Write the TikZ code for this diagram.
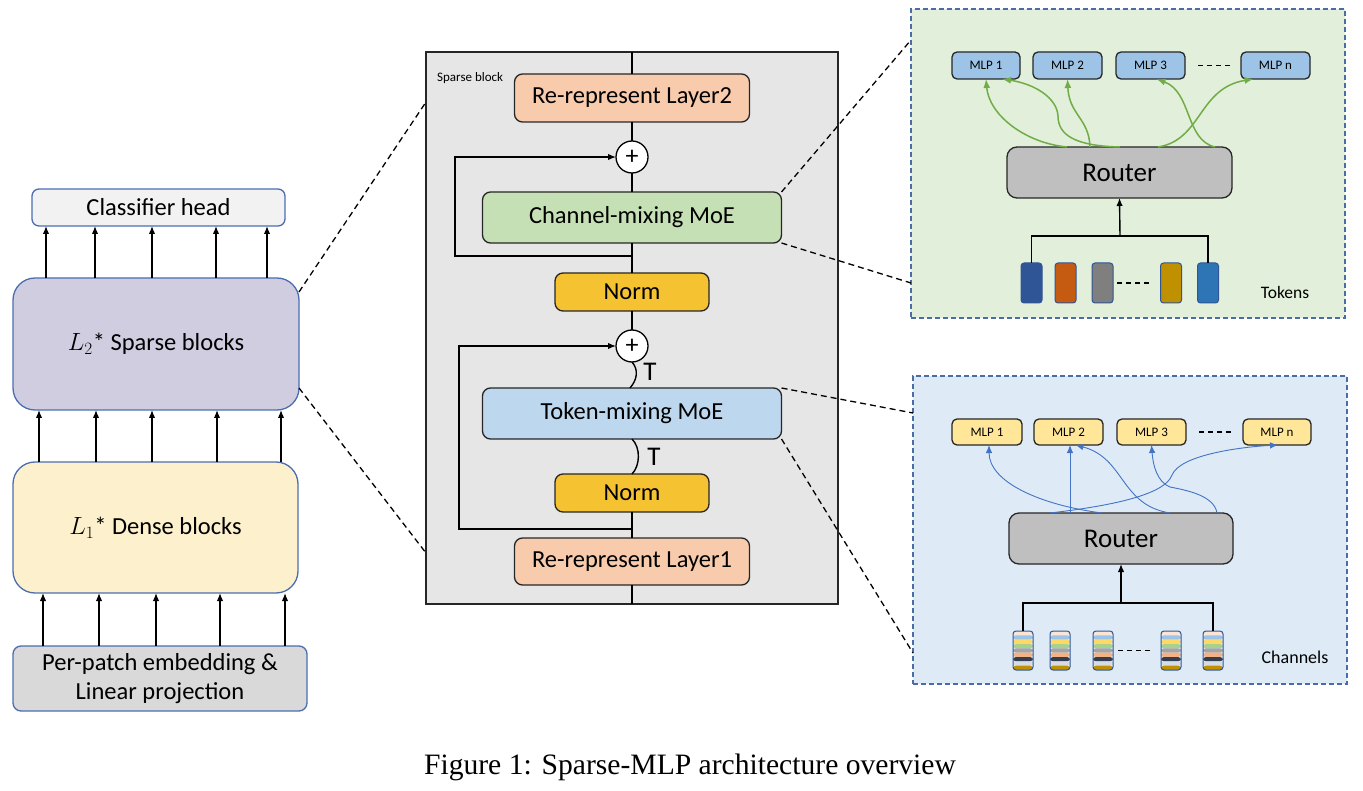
\documentclass[tikz,border=0pt]{standalone}
\usepackage{fontspec}
\setmainfont{Carlito}
\newfontfamily\capfont{Liberation Serif}
\usetikzlibrary{arrows.meta,calc}
\definecolor{lblue}{HTML}{4B6EAF}
\definecolor{clsfill}{HTML}{F2F2F2}
\definecolor{sparsefill}{HTML}{D0CDE1}
\definecolor{densefill}{HTML}{FCF0CD}
\definecolor{patchfill}{HTML}{D9D9D9}
\definecolor{sgray}{HTML}{E7E6E6}
\definecolor{rrfill}{HTML}{F8CBAD}
\definecolor{cmfill}{HTML}{C5E0B4}
\definecolor{normfill}{HTML}{F5C232}
\definecolor{tmfill}{HTML}{BDD7EE}
\definecolor{gfill}{HTML}{E2EFDA}
\definecolor{bfill}{HTML}{DEEBF7}
\definecolor{pborder}{HTML}{4A6DA7}
\definecolor{mlpblue}{HTML}{9DC3E6}
\definecolor{mlpyellow}{HTML}{FFE699}
\definecolor{routerfill}{HTML}{BFBFBF}
\definecolor{garrow}{HTML}{70AD47}
\definecolor{barrow}{HTML}{4472C4}
\definecolor{tokborder}{HTML}{2F5597}
\definecolor{tokA}{HTML}{2F5597}
\definecolor{tokB}{HTML}{C55A11}
\definecolor{tokC}{HTML}{7F7F7F}
\definecolor{tokD}{HTML}{BF9000}
\definecolor{tokE}{HTML}{2E75B6}
\definecolor{chA}{HTML}{FBE5D6}
\definecolor{chB}{HTML}{9DC3E6}
\definecolor{chC}{HTML}{FFD966}
\definecolor{chD}{HTML}{A9D18E}
\definecolor{chE}{HTML}{A5A5A5}
\definecolor{chF}{HTML}{F4B183}
\definecolor{chG}{HTML}{333F50}
\definecolor{chH}{HTML}{D6DCE5}
\definecolor{chI}{HTML}{BF9000}
\begin{document}
\begin{tikzpicture}[x=1pt,y=-1pt,
  ftext/.style={font=\fontsize{24.5}{29}\selectfont},
  lbox/.style={draw=lblue, line width=1.3pt, inner sep=0pt, outer sep=0pt, align=center, ftext},
  mbox/.style={draw=black!85, line width=1.3pt, inner sep=0pt, outer sep=0pt, align=center, rounded corners=8pt, ftext},
  plusc/.style={circle, draw=black, fill=white, line width=1.3pt, minimum size=32pt, inner sep=0pt, outer sep=0pt, font=\fontsize{26}{26}\selectfont},
  arr/.style={-{Latex[length=8pt,width=6.5pt]}, line width=1.4pt},
  mline/.style={line width=1.4pt},
  zoomline/.style={dash pattern=on 6pt off 4pt, line width=1.3pt},
  panel/.style={draw=pborder, dash pattern=on 5pt off 3pt, line width=1.3pt, inner sep=0pt, outer sep=0pt},
  mlp/.style={draw=black!85, line width=1.3pt, rounded corners=5pt, minimum height=27pt, inner sep=0pt, outer sep=0pt, font=\fontsize{13}{15}\selectfont},
  router/.style={draw=black!85, line width=1.3pt, rounded corners=10pt, fill=routerfill, minimum width=225pt, minimum height=51pt, inner sep=0pt, outer sep=0pt, font=\fontsize{27}{30}\selectfont},
  tok/.style={draw=tokborder, line width=1pt, rounded corners=3pt, minimum width=21pt, minimum height=40pt, inner sep=0pt, outer sep=0pt},
  chan/.style={draw=tokborder, line width=1pt, rounded corners=3pt, minimum width=20pt, minimum height=39pt, inner sep=0pt, outer sep=0pt,
    path picture={\foreach \c [count=\i from 0] in {chA,chB,chC,chD,chE,chF,chG,chH,chI}{
      \fill[\c] ([yshift={-\i*4.333pt}]path picture bounding box.north west) rectangle ([yshift={-(\i+1)*4.333pt}]path picture bounding box.north east);}}},
  dots/.style={dash pattern=on 5pt off 4pt, line width=1.3pt},
  garr/.style={-{Latex[length=9pt,width=7pt]}, line width=1.5pt, draw=garrow},
  barr/.style={-{Latex[length=8pt,width=6.5pt]}, line width=0.9pt, draw=barrow},
  tlabel/.style={font=\fontsize{27}{30}\selectfont, inner sep=0pt}
]
\useasboundingbox (0,0) rectangle (1363,791);

% ---------- left column ----------
\node[lbox, rounded corners=7pt, fill=clsfill, minimum width=253pt, minimum height=37pt] (cls) at (158.5,207.5) {Classifier head};
\node[lbox, rounded corners=22pt, fill=sparsefill, minimum width=286pt, minimum height=132pt] (sparse) at (156,344) {$L_2$* Sparse blocks};
\node[lbox, rounded corners=22pt, fill=densefill, minimum width=285pt, minimum height=131pt] (dense) at (155.5,527.5) {$L_1$* Dense blocks};
\node[lbox, rounded corners=8pt, fill=patchfill, minimum width=294pt, minimum height=65pt] (patch) at (160,678.5) {Per-patch embedding \&\\Linear projection};

\foreach \x in {46,95,152,216,267} \draw[arr] (sparse.north -| \x,0) -- (cls.south -| \x,0);
\foreach \x in {39,96,152,217,281} \draw[arr] (dense.north -| \x,0) -- (sparse.south -| \x,0);
\foreach \x in {43,99,156,220,285} \draw[arr] (patch.north -| \x,0) -- (dense.south -| \x,0);

% ---------- middle block ----------
\node[draw=black!85, line width=1.3pt, fill=sgray, minimum width=412pt, minimum height=552pt, inner sep=0pt, outer sep=0pt] (sblock) at (632,328) {};
\node[anchor=west, font=\fontsize{13}{15}\selectfont, inner sep=0pt] (sbl) at (437,78) {Sparse block};

\node[mbox, fill=rrfill, minimum width=235pt, minimum height=48pt] (rr2) at (632,98) {Re-represent Layer2};
\node[plusc] (p1) at (632,157) {+};
\node[mbox, fill=cmfill, minimum width=299pt, minimum height=51pt] (cmoe) at (632,217.5) {Channel-mixing MoE};
\node[mbox, fill=normfill, minimum width=154pt, minimum height=38pt] (n1) at (632,292) {Norm};
\node[plusc] (p2) at (632,346) {+};
\node[mbox, fill=tmfill, minimum width=299pt, minimum height=51pt] (tmoe) at (632,413.5) {Token-mixing MoE};
\node[mbox, fill=normfill, minimum width=154pt, minimum height=38pt] (n2) at (632,493) {Norm};
\node[mbox, fill=rrfill, minimum width=235pt, minimum height=47pt] (rr1) at (632,561.5) {Re-represent Layer1};

\draw[mline] (sblock.north) -- (rr2.north);
\draw[mline] (rr2.south) -- (p1.north);
\draw[mline] (p1.south) -- (cmoe.north);
\draw[mline] (cmoe.south) -- (n1.north);
\draw[mline] (n1.south) -- (p2.north);
\draw[mline] (p2.south) .. controls (639,370) and (637,380) .. ([xshift=-2pt]tmoe.north);
\draw[mline] (tmoe.south) .. controls (641,448) and (640,466) .. (n2.north);
\draw[mline] (n2.south) -- (rr1.north);
\draw[mline] (rr1.south) -- (sblock.south);
\coordinate (s1) at (632,256);
\coordinate (s2) at (632,529);
\draw[arr] (s1) -- (455,256) |- (p1.west);
\draw[arr] (s2) -- (459,529) |- (p2.west);
\node[tlabel] (t1) at (650,372) {T};
\node[tlabel] (t2) at (654,457) {T};

% ---------- right panels ----------
\node[panel, fill=gfill, minimum width=434pt, minimum height=309pt] (gpanel) at (1128,163.5) {};
\node[panel, fill=bfill, minimum width=434pt, minimum height=308pt] (bpanel) at (1130,530) {};

% green panel
\node[mlp, fill=mlpblue, minimum width=68pt] (gm1) at (986,65.5) {MLP 1};
\node[mlp, fill=mlpblue, minimum width=69pt] (gm2) at (1067.5,65.5) {MLP 2};
\node[mlp, fill=mlpblue, minimum width=69pt] (gm3) at (1150.5,65.5) {MLP 3};
\node[mlp, fill=mlpblue, minimum width=69pt] (gmn) at (1275.5,65.5) {MLP n};
\draw[dots, shorten <=13pt, shorten >=9pt] (gm3) -- (gmn);
\node[router] (grouter) at (1119.5,172.5) {Router};
\node[tok, fill=tokA] (tk1) at (1031.5,283) {};
\node[tok, fill=tokB] (tk2) at (1065.5,283) {};
\node[tok, fill=tokC] (tk3) at (1102.5,283) {};
\node[tok, fill=tokD] (tk4) at (1171,283) {};
\node[tok, fill=tokE] (tk5) at (1208,283) {};
\draw[dots, shorten <=4pt, shorten >=9pt] (tk3) -- (tk4);
\coordinate (gjoin) at (1120,236);
\draw[mline] (tk1.north) |- (gjoin) -| (tk5.north);
\draw[arr] (gjoin) -- (grouter.south);
\node[font=\fontsize{17.5}{20}\selectfont, inner sep=0pt] (toklbl) at (1285,292) {Tokens};

\draw[garr] (grouter.north -| 1067,0) .. controls (1025,143) and (989,115) .. (gm1.south);
\draw[garr] (grouter.north -| 1120,0) .. controls (1075,146) and (1058,135) .. (1058,116) .. controls (1057,98) and (1035,84) .. ([xshift=16pt]gm1.south);
\draw[garr] (grouter.north -| 1090,0) .. controls (1089,118) and (1069,115) .. (gm2.south);
\draw[garr] (grouter.north -| 1215,0) .. controls (1185,140) and (1192,92) .. ([xshift=6pt]gm3.south);
\draw[garr] (grouter.north -| 1158,0) .. controls (1202,140) and (1198,88) .. ([xshift=-22pt]gmn.south);

% blue panel
\node[mlp, fill=mlpyellow, minimum width=70pt, minimum height=26pt] (bm1) at (987,432) {MLP 1};
\node[mlp, fill=mlpyellow, minimum width=69pt, minimum height=26pt] (bm2) at (1068.5,432) {MLP 2};
\node[mlp, fill=mlpyellow, minimum width=69pt, minimum height=26pt] (bm3) at (1151.5,432) {MLP 3};
\node[mlp, fill=mlpyellow, minimum width=68pt, minimum height=26pt] (bmn) at (1277,432) {MLP n};
\draw[dots, shorten <=13pt, shorten >=10pt] (bm3) -- (bmn);
\node[router, minimum width=224pt] (brouter) at (1121,538.5) {Router};
\node[chan] (ch1) at (1023,650.5) {};
\node[chan] (ch2) at (1060,650.5) {};
\node[chan] (ch3) at (1103,650.5) {};
\node[chan] (ch4) at (1171,650.5) {};
\node[chan] (ch5) at (1213,650.5) {};
\draw[dots, shorten <=5pt, shorten >=8pt] (ch3) -- (ch4);
\coordinate (bjoin) at (1121,603);
\draw[mline] (ch1.north) |- (bjoin) -| (ch5.north);
\draw[arr] (bjoin) -- (brouter.south);
\node[font=\fontsize{18}{20}\selectfont, inner sep=0pt] (chlbl) at (1295,657) {Channels};

\draw[barr] (brouter.north -| 1102,0) .. controls (1040,505) and (989,482) .. ([xshift=2pt]bm1.south);
\draw[barr] (brouter.north -| 1070,0) -- (bm2.south -| 1070,0);
\draw[barr] (brouter.north -| 1170,0) .. controls (1120,505) and (1125,458) .. ([xshift=7pt]bm2.south);
\draw[barr] (brouter.north -| 1217,0) .. controls (1214,495) and (1185,490) .. (1170,487) .. controls (1157,482) and (1153,465) .. (bm3.south);
\draw[barr] (brouter.north -| 1050,0) .. controls (1110,506) and (1165,495) .. (1172,475) .. controls (1180,455) and (1240,447) .. ([xshift=1pt]bmn.south);

% ---------- zoom connectors ----------
\draw[zoomline] ([yshift=-14pt]sparse.north east) -- (sblock.west |- 0,102);
\draw[zoomline] ([yshift=22pt]sparse.south east) -- (sblock.west |- 0,553);
\draw[zoomline] (cmoe.north east) -- (gpanel.west |- 0,40);
\draw[zoomline] (cmoe.south east) -- (gpanel.west |- 0,283);
\draw[zoomline] (tmoe.north east) -- (bpanel.west |- 0,413);
\draw[zoomline] (tmoe.south east) -- (bpanel.west |- 0,653);

% ---------- caption ----------
\node[font=\capfont\fontsize{29.6}{34}\selectfont, inner sep=0pt] (caption) at (690,767) {Figure 1: Sparse-MLP architecture overview};
\end{tikzpicture}
\end{document}
